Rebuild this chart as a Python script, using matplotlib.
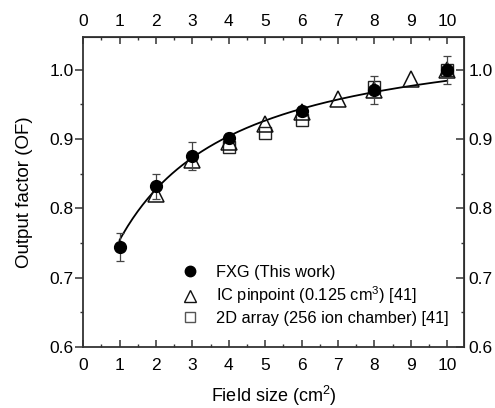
import numpy as np
import matplotlib
matplotlib.use("Agg")
from matplotlib import pyplot as plt
from matplotlib.lines import Line2D

plt.rcParams['font.family'] = ['Liberation Sans', 'DejaVu Sans']
plt.rcParams['mathtext.fontset'] = 'custom'
plt.rcParams['mathtext.rm'] = 'Liberation Sans'

# FXG gel dosimeter (this work)
fxg_size = [1, 2, 3, 4, 6, 8, 10]
fxg_of = [0.744, 0.832, 0.875, 0.902, 0.940, 0.971, 1.000]
fxg_err = [0.020, 0.018, 0.020, 0.006, 0.007, 0.020, 0.020]

# IC pinpoint chamber [41]
ic_size = [2, 3, 4, 5, 6, 7, 8, 9, 10]
ic_of = [0.820, 0.869, 0.896, 0.921, 0.939, 0.957, 0.970, 0.987, 1.000]

# 2D array [41]
arr_size = [4, 5, 6, 8, 10]
arr_of = [0.888, 0.908, 0.928, 0.975, 1.000]

# fitted curve OF = a - b / (x + c)
fit_a, fit_b, fit_c = 1.0677, 1.0267, 2.273

fig = plt.figure(figsize=(4.95, 4.08), dpi=100)
ax = fig.add_axes([0.168, 0.150, 0.770, 0.759])

xs = np.linspace(1, 10, 200)
ax.plot(xs, fit_a - fit_b / (xs + fit_c), color='black', lw=1.3, zorder=2)

ax.plot(arr_size, arr_of, ls='none', marker='s', ms=9, mfc='none',
        mec='#222222', mew=1.0, zorder=3)
ax.plot(ic_size, ic_of, ls='none', marker='^', ms=11, mfc='none',
        mec='#111111', mew=1.1, zorder=4)
ax.errorbar(fxg_size, fxg_of, yerr=fxg_err, fmt='o', ms=8.5, color='black',
            ecolor='#444444', elinewidth=0.9, capsize=3, capthick=0.9,
            zorder=5)

ax.set_xlim(0, 10.47)
ax.set_ylim(0.6, 1.047)
ax.set_xticks(range(0, 11))
ax.set_xticks(np.arange(0.5, 10.5, 1), minor=True)
ax.set_yticks([0.6, 0.7, 0.8, 0.9, 1.0])
ax.set_yticks(np.arange(0.65, 1.05, 0.1), minor=True)
ax.yaxis.set_major_formatter(matplotlib.ticker.FormatStrFormatter('%.1f'))

for s in ax.spines.values():
    s.set_linewidth(1.3)
    s.set_color('#333333')

ax.tick_params(axis='x', which='both', direction='in', labelsize=12.5,
               color='#333333', pad=8)
ax.tick_params(axis='x', which='major', length=5, width=1.1)
ax.tick_params(axis='x', which='minor', length=2.5, width=1.0)
ax.tick_params(axis='y', which='both', direction='out', labelsize=12.5,
               color='#333333', pad=1)
ax.tick_params(axis='y', which='major', length=6, width=1.1)
ax.tick_params(axis='y', which='minor', length=2.5, width=1.0)

top = ax.secondary_xaxis('top')
top.set_xticks(range(0, 11))
top.set_xticks(np.arange(0.5, 10.5, 1), minor=True)
top.tick_params(which='both', direction='in', labelsize=12.5, color='#333333', pad=6)
top.tick_params(which='major', length=5, width=1.1)
top.tick_params(which='minor', length=2.5, width=1.0)

right = ax.secondary_yaxis('right')
right.set_yticks([0.6, 0.7, 0.8, 0.9, 1.0])
right.set_yticks(np.arange(0.65, 1.05, 0.1), minor=True)
right.yaxis.set_major_formatter(matplotlib.ticker.FormatStrFormatter('%.1f'))
right.tick_params(which='both', direction='in', labelsize=12.5, color='#333333', pad=3)
right.tick_params(which='major', length=6, width=1.1)
right.tick_params(which='minor', length=2.5, width=1.0)

ax.set_xlabel('Field size (cm$^2$)', fontsize=13, labelpad=8)
ax.set_ylabel('Output factor (OF)', fontsize=13.5, labelpad=12)

# legend shows bare markers, no error bars
handles = [
    Line2D([], [], ls='none', marker='o', ms=7.5, color='black'),
    Line2D([], [], ls='none', marker='^', ms=9, mfc='none', mec='#111111', mew=1.0),
    Line2D([], [], ls='none', marker='s', ms=6.5, mfc='none', mec='#555555', mew=1.0),
]
labels = ['FXG (This work)', 'IC pinpoint (0.125 cm$^3$) [41]',
          '2D array (256 ion chamber) [41]']
ax.legend(handles, labels, loc='lower left', bbox_to_anchor=(0.215, 0.02),
          frameon=False, fontsize=11.8, handlelength=1.2, handletextpad=1.0,
          labelspacing=0.28)

fig.savefig('out.png', dpi=100)
